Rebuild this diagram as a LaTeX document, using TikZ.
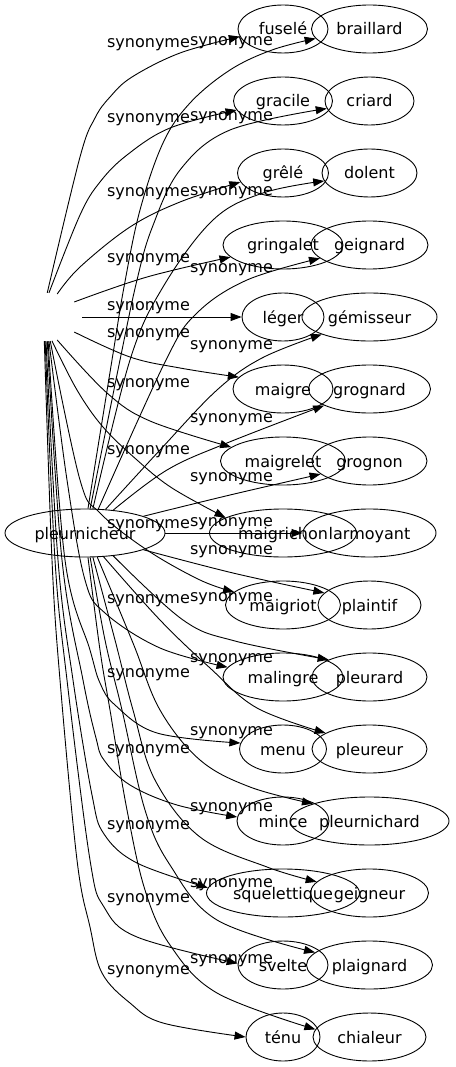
\documentclass[tikz,border=0pt]{standalone}
\usepackage{fontspec}
\setmainfont{DejaVu Sans}
\usetikzlibrary{shapes.geometric,arrows.meta}
\begin{document}
\begin{tikzpicture}[x=1pt,y=-1pt,
  word/.style={draw, ellipse, inner sep=0pt, minimum height=48pt, text height=12pt, text depth=0pt, font=\fontsize{16}{19}\selectfont, line width=0.9pt},
  lab/.style={anchor=base, inner sep=0pt, font=\fontsize{16}{19}\selectfont},
  edge/.style={line width=0.9pt, -{Triangle[length=11pt,width=8pt]}},
  sm/.style={smooth, tension=0.6}]
\useasboundingbox (0,0) rectangle (455,1067);

\foreach \n/\t/\y/\w in {fusele/fuselé/29/90, gracile/gracile/101/99, grele/grêlé/173/91, gringalet/gringalet/245/120, leger/léger/317/82, maigre/maigre/389/100, maigrelet/maigrelet/461/125, maigrichon/maigrichon/533/147, maigriot/maigriot/605/115, malingre/malingre/677/120, menu/menu/749/87, mince/mince/821/92, squelettique/squelettique/893/153, svelte/svelte/965/90, tenu/ténu/1037/74}
  \node[word, minimum width=\w pt] (\n) at (283,\y) {\t};

\foreach \n/\t/\y/\w in {braillard/braillard/29/116, criard/criard/101/89, dolent/dolent/173/95, geignard/geignard/245/117, gemisseur/gémisseur/317/135, grognard/grognard/389/122, grognon/grognon/461/115, larmoyant/larmoyant/533/133, plaintif/plaintif/605/103, pleurard/pleurard/677/115, pleureur/pleureur/749/115, pleurnichard/pleurnichard/821/159, geigneur/geigneur/893/118, plaignard/plaignard/965/126, chialeur/chialeur/1037/113}
  \node[word, minimum width=\w pt] (\n) at (369.5,\y) {\t};

\node[word, minimum width=160pt] (pleur) at (85,533) {pleurnicheur};
\node[ellipse, minimum width=72pt, minimum height=48pt, inner sep=0pt] (src) at (46,317) {};

\foreach \y [count=\i] in {43,118,192,258,306,333,383,450,524,599,673,749,825,898,970}
  \node[lab] (ls\i) at (148.5,\y+4.5) {synonyme};
\foreach \y [count=\i] in {41,116,191,268,345,418,477,522,550,597,658,731,807,883,959}
  \node[lab] (lp\i) at (231.5,\y+4.5) {synonyme};

% src -> left column
\draw[edge] plot[sm] coordinates {(src.87) (80,157) (95,118) (110,97) (132,77) (180,53) (fusele.190)};
\draw[edge] plot[sm] coordinates {(src.83) (80,215) (100,182) (127,155) (170,128) (gracile.191)};
\draw[edge] plot[sm] coordinates {(src.64) (80,267) (130,227) (180,202) (grele.192)};
\draw[edge] plot[sm] coordinates {(src.28) (147,277) (gringalet.193)};
\draw[edge] (src) -- (leger);
\draw[edge] plot[sm] coordinates {(src.-28) (130,357) (180,368) (maigre.165)};
\draw[edge] plot[sm] coordinates {(src.-64) (107,393) (150,421) (maigrelet.165)};
\draw[edge] plot[sm] coordinates {(src.-76) (77,390) (103,427) (137,460) (172,488) (maigrichon.165)};
\draw[edge] plot[sm] coordinates {(src.-80) (80,480) (100,513) (147,550) (200,580) (maigriot.165)};
\draw[edge] plot[sm] coordinates {(src.-83) (67,480) (85,580) (105,613) (160,648) (malingre.170)};
\draw[edge] plot[sm] coordinates {(src.-85) (65,560) (90,650) (100,683) (115,705) (157,733) (menu.172)};
\draw[edge] plot[sm] coordinates {(src.-87) (62,560) (83,680) (96,738) (104,760) (130,785) (177,805) (mince.175)};
\draw[edge] plot[sm] coordinates {(src.-90) (58,560) (73,680) (92,795) (104,834) (137,863) (squelettique.176)};
\draw[edge] plot[sm] coordinates {(src.-92) (55,560) (67,680) (90,860) (104,907) (137,937) (svelte.178)};
\draw[edge] plot[sm] coordinates {(src.-94) (52,560) (60,680) (77,860) (90,927) (102,973) (130,1003) (163,1023) (tenu.180)};

% pleurnicheur -> right column
\draw[edge] plot[sm] coordinates {(pleur.83) (112,360) (124,287) (140,210) (163,143) (190,103) (230,70) (272,50) (braillard.190)};
\draw[edge] plot[sm] coordinates {(pleur.78) (120,360) (137,280) (152,228) (180,170) (230,130) (criard.190)};
\draw[edge] plot[sm] coordinates {(pleur.72) (130,360) (163,287) (213,220) (263,193) (dolent.190)};
\draw[edge] plot[sm] coordinates {(pleur.61) (166,360) (197,313) (247,280) (geignard.195)};
\draw[edge] plot[sm] coordinates {(pleur.49) (160,450) (217,390) (262,358) (gemisseur.200)};
\draw[edge] plot[sm] coordinates {(pleur.39) (167,470) (227,443) (grognard.200)};
\draw[edge] plot[sm] coordinates {(pleur.16) (230,495) (grognon.195)};
\draw[edge] (pleur) -- (larmoyant);
\draw[edge] plot[sm] coordinates {(pleur.-16) (233,573) (plaintif.165)};
\draw[edge] plot[sm] coordinates {(pleur.-39) (183,620) (235,641) (pleurard.157)};
\draw[edge] plot[sm] coordinates {(pleur.-52) (160,620) (210,668) (257,708) (pleureur.160)};
\draw[edge] plot[sm] coordinates {(pleur.-63) (133,643) (160,710) (200,760) (250,787) (pleurnichard.163)};
\draw[edge] plot[sm] coordinates {(pleur.-72) (115,640) (133,710) (155,780) (200,837) (267,867) (geigneur.168)};
\draw[edge] plot[sm] coordinates {(pleur.-78) (105,640) (122,710) (145,810) (170,865) (217,920) (plaignard.167)};
\draw[edge] plot[sm] coordinates {(pleur.-83) (100,650) (110,710) (127,810) (145,890) (170,945) (217,993) (chialeur.172)};
\end{tikzpicture}
\end{document}
